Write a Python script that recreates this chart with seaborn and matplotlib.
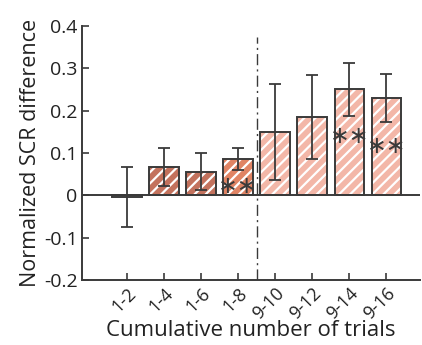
import matplotlib
matplotlib.use("Agg")
import matplotlib.pyplot as plt
import matplotlib.transforms as mtransforms
import seaborn as sns
import pandas as pd
import numpy as np

categories = ["1-2", "1-4", "1-6", "1-8", "9-10", "9-12", "9-14", "9-16"]
means = [-0.003, 0.067, 0.056, 0.086, 0.149, 0.185, 0.250, 0.229]
errors = [0.071, 0.044, 0.044, 0.025, 0.113, 0.100, 0.063, 0.057]
colors = ["#ffffff", "#d4684c", "#d4684c", "#f47a50", "#ffb09c", "#ffb09c", "#ffb09c", "#ffb09c"]
stars = ["", "", "", "**", "", "", "**", "**"]
star_y = [0, 0, 0, 0.022, 0, 0, 0.140, 0.117]
yticks = [-0.2, -0.1, 0, 0.1, 0.2, 0.3, 0.4]
ytick_labels = ["-0.2", "-0.1", "0", "0.1", "0.2", "0.3", "0.4"]

sns.set_theme(style="white")
plt.rcParams["font.family"] = ["Open Sans", "DejaVu Sans"]
plt.rcParams["hatch.linewidth"] = 1.6

df = pd.DataFrame({"cat": categories, "val": means})
fig = plt.figure(figsize=(4.22, 3.45), dpi=100)
ax = fig.add_axes([0.194, 0.188, 0.801, 0.737])

dark = "#3a3a3a"
sns.barplot(data=df, x="cat", y="val", hue="cat", palette=colors, order=categories,
            hue_order=categories, legend=False, width=0.8, ax=ax, errorbar=None, zorder=2)

for p, c in zip(ax.patches, colors):
    p.set_hatch("///" if c != "#ffffff" else "")
    p.set_edgecolor("white")
    p.set_linewidth(0)
    outline = plt.Rectangle(p.get_xy(), p.get_width(), p.get_height(), fill=False,
                            edgecolor=dark, linewidth=1.4, zorder=3)
    ax.add_patch(outline)

ax.axhline(0, color=dark, lw=1.4, zorder=2.5)
ax.errorbar(np.arange(len(categories)), means, yerr=errors, fmt="none", ecolor=dark,
            elinewidth=1.3, capsize=4, capthick=1.3, zorder=4)

for i, (s, yv) in enumerate(zip(stars, star_y)):
    if s:
        ax.text(i, yv, "∗∗", ha="center", va="center", fontsize=17, color=dark,
                family="DejaVu Sans", zorder=5)

ax.plot([3.5, 3.5], [-0.2, 0.373], color=dark, lw=1.0, ls=(0, (8, 3, 1.5, 3)), zorder=1)

ax.set_xlim(-1.21, 7.9)
ax.set_ylim(-0.2, 0.4)
ax.set_yticks(yticks)
ax.set_yticklabels(ytick_labels, fontsize=14)
ax.set_xticks(range(len(categories)))
ax.set_xticklabels(categories, rotation=45, ha="right", va="top", rotation_mode="anchor", fontsize=13)
offset = mtransforms.ScaledTranslation(6 / 100, 0, fig.dpi_scale_trans)
for lbl in ax.get_xticklabels():
    lbl.set_transform(lbl.get_transform() + offset)
ax.tick_params(axis="both", direction="in", length=5, width=1.2, color=dark, pad=3,
               left=True, bottom=True, labelcolor="#222222")
ax.tick_params(axis="x", pad=3)
for side in ["top", "right"]:
    ax.spines[side].set_visible(False)
for side in ["left", "bottom"]:
    ax.spines[side].set_color(dark)
    ax.spines[side].set_linewidth(1.4)
ax.set_xlabel("Cumulative number of trials", fontsize=16, color="#222222")
ax.xaxis.set_label_coords(0.5, -0.155)
ax.xaxis.label.set_va("top")
ax.set_ylabel("Normalized SCR difference", fontsize=15.5, color="#222222", labelpad=2)

fig.savefig("out.png", dpi=100)
